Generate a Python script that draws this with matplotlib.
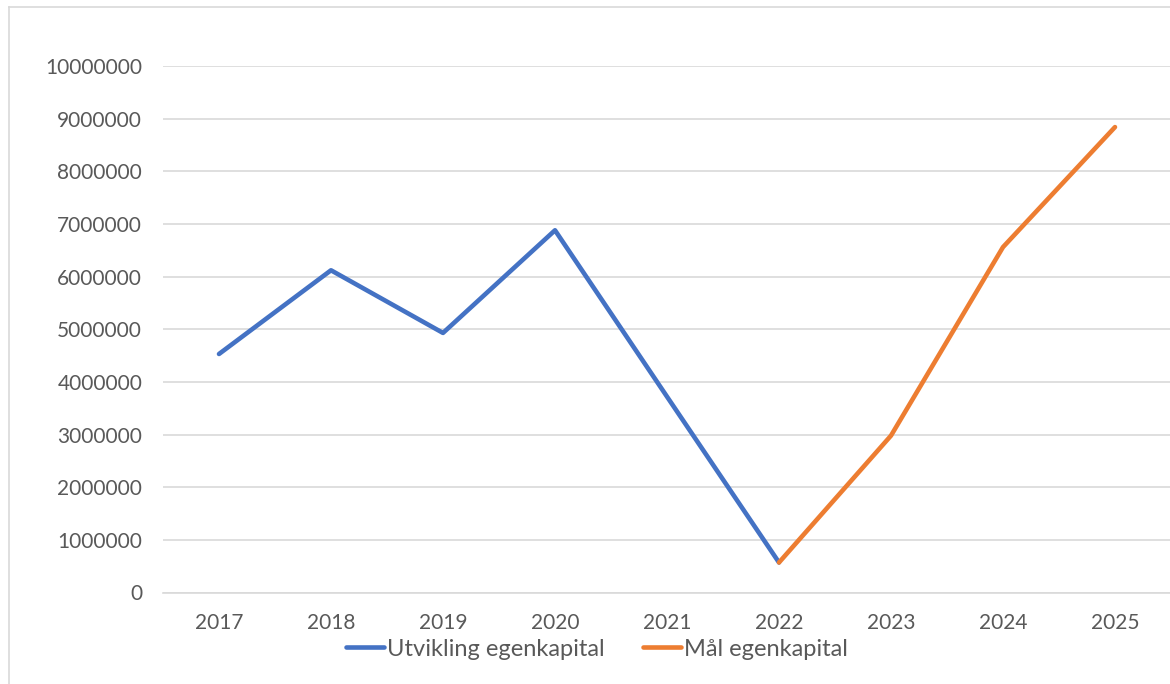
import matplotlib
matplotlib.use("Agg")
import matplotlib.pyplot as plt
from matplotlib.lines import Line2D

years = ["2017", "2018", "2019", "2020", "2021", "2022", "2023", "2024", "2025"]
utvikling = [4530000, 6120000, 4930000, 6880000, 3720000, 570000]
maal = [570000, 2980000, 6560000, 8840000]
yticks = [0, 1000000, 2000000, 3000000, 4000000, 5000000, 6000000, 7000000, 8000000, 9000000, 10000000]

plt.rcParams['font.family'] = ['Lato', 'DejaVu Sans']

fig = plt.figure(figsize=(11.7, 6.84), dpi=100)
fig.patch.set_facecolor('white')
# chart border (left and top visible)
fig.add_artist(Line2D([9/1170, 9/1170], [0, 1 - 7/684], color='#D9D9D9', lw=1.2))
fig.add_artist(Line2D([9/1170, 1], [1 - 7/684, 1 - 7/684], color='#D9D9D9', lw=1.2))

ax = fig.add_axes([163/1170, 1 - 592.5/684, (1171 - 163)/1170, (592.5 - 66)/684])
x_blue = list(range(len(utvikling)))
x_orange = list(range(len(utvikling) - 1, len(utvikling) - 1 + len(maal)))
ax.plot(x_blue, utvikling, color='#4472C4', lw=3.3, solid_joinstyle='round', solid_capstyle='round', label='Utvikling egenkapital', zorder=3)
ax.plot(x_orange, maal, color='#ED7D31', lw=3.3, solid_joinstyle='round', solid_capstyle='round', label='Mål egenkapital', zorder=3)

ax.set_xlim(-0.5, len(years) - 0.5)
ax.set_ylim(0, 10000000)
ax.set_xticks(range(len(years)))
ax.set_xticklabels(years)
ax.set_yticks(yticks)
ax.set_yticklabels([str(v) for v in yticks])
ax.tick_params(axis='both', length=0, labelsize=15, colors='#595959')
ax.tick_params(axis='y', pad=15)
ax.tick_params(axis='x', pad=15)
ax.grid(axis='y', color='#D9D9D9', lw=1.2)
ax.set_axisbelow(True)
for s in ['top', 'right', 'left']:
    ax.spines[s].set_visible(False)
ax.spines['bottom'].set_color('#D9D9D9')
ax.spines['bottom'].set_linewidth(1.2)
ax.spines['bottom'].set_zorder(1)

leg = ax.legend(loc='center', bbox_to_anchor=(597/1170, 1 - 649/684), bbox_transform=fig.transFigure,
                ncol=2, frameon=False, fontsize=17, handlelength=1.6, handletextpad=0.12,
                columnspacing=1.65, labelcolor='#595959')
fig.savefig('out.png', dpi=100, facecolor='white')
